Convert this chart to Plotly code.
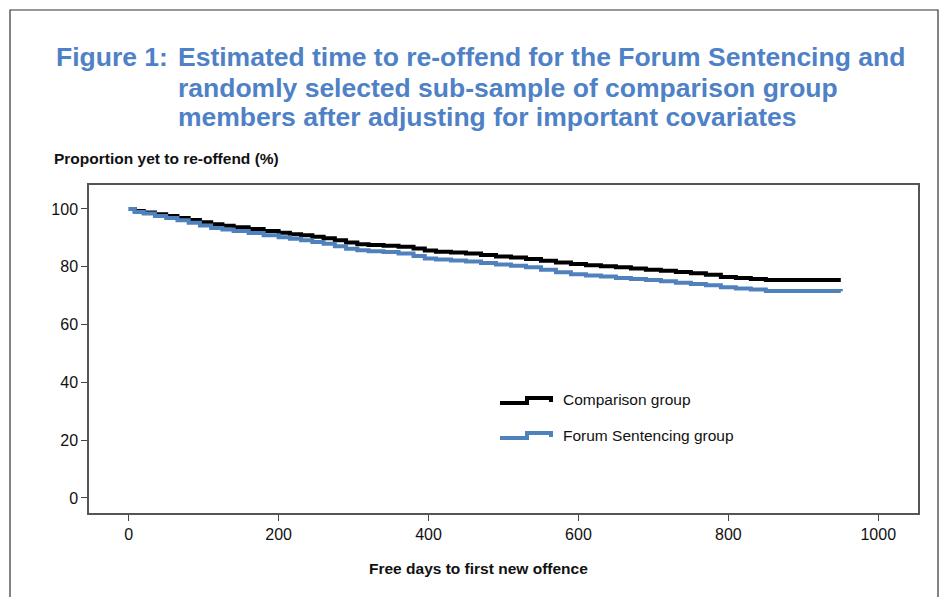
import plotly.graph_objects as go

# Data
comp_days = [0, 8, 20, 35, 50, 65, 80, 95, 110, 125, 140, 160, 180, 200, 215, 230, 245, 260, 275, 290,
             305, 320, 340, 360, 380, 395, 410, 430, 450, 470, 490, 510, 530, 550, 570, 590, 610, 630,
             650, 670, 690, 710, 730, 750, 770, 790, 810, 830, 850, 950]
comp_vals = [100, 99.3, 98.8, 98.2, 97.6, 96.9, 96.2, 95.4, 94.7, 94.2, 93.7, 93.1, 92.4, 91.8, 91.3, 90.9,
             90.4, 89.9, 89.2, 88.4, 87.8, 87.5, 87.3, 86.9, 86.3, 85.6, 85.2, 84.9, 84.6, 84.1, 83.6, 83.2,
             82.7, 82.1, 81.5, 81.0, 80.5, 80.2, 79.8, 79.4, 79.0, 78.6, 78.2, 77.8, 77.2, 76.5, 76.1, 75.8,
             75.4, 75.4]

forum_days = [0, 8, 20, 35, 50, 65, 80, 95, 110, 125, 140, 160, 180, 200, 215, 230, 245, 260, 275, 290,
              305, 320, 340, 360, 380, 395, 410, 430, 450, 470, 490, 510, 530, 550, 570, 590, 610, 630,
              650, 670, 690, 710, 730, 750, 770, 790, 810, 830, 850, 950]
forum_vals = [100, 99.0, 98.4, 97.6, 96.9, 96.1, 95.2, 94.3, 93.4, 92.9, 92.4, 91.7, 90.9, 90.2, 89.7, 89.2,
              88.6, 88.0, 87.1, 86.2, 85.7, 85.4, 85.1, 84.6, 83.7, 82.9, 82.5, 82.2, 81.8, 81.3, 80.8, 80.4,
              79.8, 79.0, 78.1, 77.4, 77.0, 76.6, 76.1, 75.8, 75.4, 75.0, 74.5, 74.0, 73.6, 72.9, 72.5, 72.1,
              71.6, 71.5]

x_ticks = [0, 200, 400, 600, 800, 1000]
y_ticks = [0, 20, 40, 60, 80, 100]

series_names = ["Comparison group", "Forum Sentencing group"]
series_colors = ["#000000", "#4F81BD"]

ARIAL = "Liberation Sans, Arial, sans-serif"

fig = go.Figure()
for name, color, xs, ys in [
    (series_names[0], series_colors[0], comp_days, comp_vals),
    (series_names[1], series_colors[1], forum_days, forum_vals),
]:
    fig.add_trace(go.Scatter(
        x=xs, y=ys, mode="lines", name=name, showlegend=False,
        line=dict(color=color, width=4, shape="hv"),
    ))

# page has an 8px body margin; positions below are given in screen pixels
OFF = 8
W, H = 949 - 2 * OFF, 605 - 2 * OFF
L, T = 89 - OFF, 185 - OFF
R = W - (918 - OFF)
B = H - (513 - OFF)
pw, ph = W - L - R, H - T - B


def px(xs):
    return (xs - OFF - L) / pw


def py(ys):
    return (H - B - (ys - OFF)) / ph


def legend_path(y_low, y_high):
    x0, x1, x2 = px(500), px(527), px(551)
    return (f"M{x0},{py(y_low)} L{x1},{py(y_low)} L{x1},{py(y_high)} "
            f"L{x2},{py(y_high)} L{x2},{py(y_high + 4)}")


title_font = dict(family=ARIAL, size=26.5, color="#4F81C6")
title_lines = ["Estimated time to re-offend for the Forum Sentencing and",
               "randomly selected sub-sample of comparison group",
               "members after adjusting for important covariates"]
title_y = [57, 88, 117]

annotations = [dict(text="<b>Figure 1:</b>", xref="paper", yref="paper", x=px(54), y=py(57),
                    xanchor="left", yanchor="middle", showarrow=False, font=title_font)]
for line, yy in zip(title_lines, title_y):
    annotations.append(dict(text=f"<b>{line}</b>", xref="paper", yref="paper", x=px(176), y=py(yy),
                            xanchor="left", yanchor="middle", showarrow=False, font=title_font))
annotations += [
    dict(text="<b>Proportion yet to re-offend (%)</b>", xref="paper", yref="paper",
         x=px(52), y=py(158), xanchor="left", yanchor="middle", showarrow=False,
         font=dict(family=ARIAL, size=15.5, color="#111")),
    dict(text="<b>Free days to first new offence</b>", xref="paper", yref="paper",
         x=px(478), y=py(568), xanchor="center", yanchor="middle", showarrow=False,
         font=dict(family=ARIAL, size=15.5, color="#111")),
    dict(text=series_names[0], xref="paper", yref="paper", x=px(561), y=py(399),
         xanchor="left", yanchor="middle", showarrow=False,
         font=dict(family=ARIAL, size=15.5, color="#111")),
    dict(text=series_names[1], xref="paper", yref="paper", x=px(561), y=py(435),
         xanchor="left", yanchor="middle", showarrow=False,
         font=dict(family=ARIAL, size=15.5, color="#111")),
]

shapes = [
    dict(type="rect", xref="paper", yref="paper",
         x0=px(10), x1=px(938), y0=py(640), y1=py(10),
         line=dict(color="#333", width=1.2), fillcolor="rgba(0,0,0,0)", layer="below"),
    dict(type="path", xref="paper", yref="paper", path=legend_path(403, 398),
         line=dict(color=series_colors[0], width=4)),
    dict(type="path", xref="paper", yref="paper", path=legend_path(438, 433),
         line=dict(color=series_colors[1], width=4)),
]

fig.update_layout(
    width=W, height=H,
    margin=dict(l=L, r=R, t=T, b=B),
    paper_bgcolor="white", plot_bgcolor="white",
    showlegend=False,
    xaxis=dict(
        range=[-53, 1053], tickvals=x_ticks, ticks="outside", ticklen=6, tickcolor="#444",
        showgrid=False, zeroline=False, showline=True, linecolor="#555", linewidth=1.5, mirror=True,
        tickfont=dict(family=ARIAL, size=16, color="#111"),
    ),
    yaxis=dict(
        range=[-5.2, 108.3], tickvals=y_ticks, ticks="outside", ticklen=6, tickcolor="#444",
        showgrid=False, zeroline=False, showline=True, linecolor="#555", linewidth=1.5, mirror=True,
        tickfont=dict(family=ARIAL, size=16, color="#111"),
    ),
    shapes=shapes,
    annotations=annotations,
)

fig.write_html("out.html")
